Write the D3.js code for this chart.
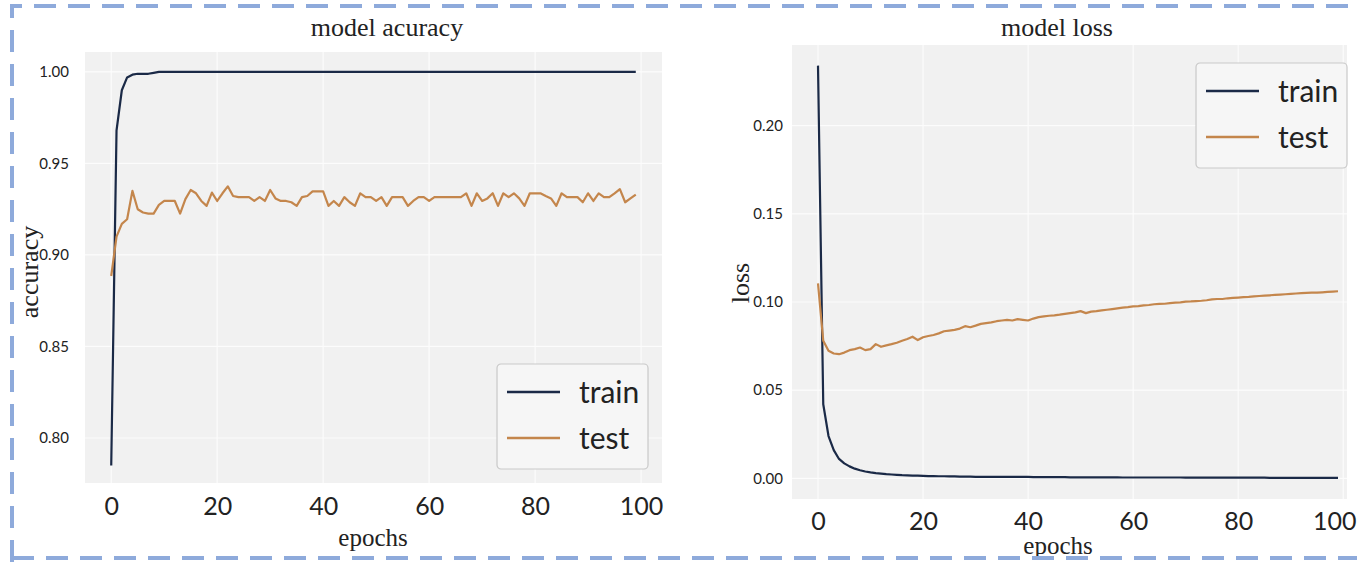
<!DOCTYPE html>
<html>
<head>
<meta charset="utf-8">
<script src="https://cdn.jsdelivr.net/npm/d3@7/dist/d3.min.js"></script>
<style>
  body { margin: 0; background: #fff; }
  svg { display: block; }
</style>
</head>
<body>
<svg id="chart" width="1357" height="562"></svg>
<script>
// values
const epochs = [
    0, 1, 2, 3, 4, 5, 6, 7, 8, 9, 10, 11, 12, 13, 14, 15, 16, 17, 18, 19,
    20, 21, 22, 23, 24, 25, 26, 27, 28, 29, 30, 31, 32, 33, 34, 35, 36, 37, 38, 39,
    40, 41, 42, 43, 44, 45, 46, 47, 48, 49, 50, 51, 52, 53, 54, 55, 56, 57, 58, 59,
    60, 61, 62, 63, 64, 65, 66, 67, 68, 69, 70, 71, 72, 73, 74, 75, 76, 77, 78, 79,
    80, 81, 82, 83, 84, 85, 86, 87, 88, 89, 90, 91, 92, 93, 94, 95, 96, 97, 98, 99
];

const accTrain = [
    0.785, 0.968, 0.990, 0.997, 0.9985, 0.999, 0.999, 0.999, 0.9995, 1.000,
    1.000, 1.000, 1.000, 1.000, 1.000, 1.000, 1.000, 1.000, 1.000, 1.000,
    1.000, 1.000, 1.000, 1.000, 1.000, 1.000, 1.000, 1.000, 1.000, 1.000,
    1.000, 1.000, 1.000, 1.000, 1.000, 1.000, 1.000, 1.000, 1.000, 1.000,
    1.000, 1.000, 1.000, 1.000, 1.000, 1.000, 1.000, 1.000, 1.000, 1.000,
    1.000, 1.000, 1.000, 1.000, 1.000, 1.000, 1.000, 1.000, 1.000, 1.000,
    1.000, 1.000, 1.000, 1.000, 1.000, 1.000, 1.000, 1.000, 1.000, 1.000,
    1.000, 1.000, 1.000, 1.000, 1.000, 1.000, 1.000, 1.000, 1.000, 1.000,
    1.000, 1.000, 1.000, 1.000, 1.000, 1.000, 1.000, 1.000, 1.000, 1.000,
    1.000, 1.000, 1.000, 1.000, 1.000, 1.000, 1.000, 1.000, 1.000, 1.000
];

const accTest = [
    0.8885, 0.9100, 0.9170, 0.9195, 0.9350, 0.9250, 0.9232, 0.9226, 0.9226, 0.9274,
    0.9295, 0.9295, 0.9295, 0.9226, 0.9305, 0.9355, 0.9337, 0.9295, 0.9268, 0.9341,
    0.9295, 0.9337, 0.9375, 0.9322, 0.9316, 0.9316, 0.9316, 0.9295, 0.9316, 0.9295,
    0.9355, 0.9309, 0.9295, 0.9295, 0.9288, 0.9268, 0.9316, 0.9322, 0.9347, 0.9347,
    0.9347, 0.9268, 0.9295, 0.9268, 0.9316, 0.9288, 0.9268, 0.9337, 0.9316, 0.9316,
    0.9295, 0.9316, 0.9268, 0.9316, 0.9316, 0.9316, 0.9268, 0.9295, 0.9316, 0.9316,
    0.9295, 0.9316, 0.9316, 0.9316, 0.9316, 0.9316, 0.9316, 0.9337, 0.9268, 0.9337,
    0.9295, 0.9309, 0.9337, 0.9268, 0.9337, 0.9316, 0.9337, 0.9309, 0.9268, 0.9337,
    0.9337, 0.9337, 0.9322, 0.9309, 0.9268, 0.9337, 0.9316, 0.9316, 0.9316, 0.9288,
    0.9337, 0.9295, 0.9337, 0.9316, 0.9316, 0.9337, 0.9360, 0.9288, 0.9309, 0.9330
];

const lossTrain = [
    0.2340, 0.0420, 0.0240, 0.0160, 0.0110, 0.0085, 0.0068, 0.0055, 0.0046, 0.0039,
    0.0034, 0.0030, 0.0027, 0.0024, 0.0022, 0.0020, 0.0018, 0.0017, 0.0016, 0.0015,
    0.0014, 0.0013, 0.0013, 0.0012, 0.0012, 0.0011, 0.0011, 0.0010, 0.0010, 0.0010,
    0.0009, 0.0009, 0.0009, 0.0009, 0.0008, 0.0008, 0.0008, 0.0008, 0.0008, 0.0008,
    0.0008, 0.0007, 0.0007, 0.0007, 0.0007, 0.0007, 0.0007, 0.0007, 0.0006, 0.0006,
    0.0006, 0.0006, 0.0006, 0.0006, 0.0006, 0.0006, 0.0006, 0.0006, 0.0005, 0.0005,
    0.0005, 0.0005, 0.0005, 0.0005, 0.0005, 0.0005, 0.0005, 0.0005, 0.0005, 0.0005,
    0.0004, 0.0004, 0.0004, 0.0004, 0.0004, 0.0004, 0.0004, 0.0004, 0.0004, 0.0004,
    0.0004, 0.0004, 0.0004, 0.0004, 0.0004, 0.0004, 0.0003, 0.0003, 0.0003, 0.0003,
    0.0003, 0.0003, 0.0003, 0.0003, 0.0003, 0.0003, 0.0003, 0.0003, 0.0003, 0.0003
];

const lossTest = [
    0.1105, 0.0780, 0.0723, 0.0708, 0.0704, 0.0713, 0.0727, 0.0733, 0.0742, 0.0727,
    0.0733, 0.0761, 0.0746, 0.0754, 0.0761, 0.0769, 0.0780, 0.0790, 0.0803, 0.0784,
    0.0800, 0.0807, 0.0813, 0.0822, 0.0834, 0.0838, 0.0842, 0.0849, 0.0863, 0.0857,
    0.0866, 0.0876, 0.0880, 0.0884, 0.0891, 0.0895, 0.0899, 0.0895, 0.0903, 0.0899,
    0.0895, 0.0906, 0.0914, 0.0918, 0.0922, 0.0924, 0.0928, 0.0933, 0.0937, 0.0941,
    0.0948, 0.0937, 0.0945, 0.0948, 0.0952, 0.0956, 0.0960, 0.0964, 0.0968, 0.0971,
    0.0975, 0.0977, 0.0981, 0.0983, 0.0987, 0.0989, 0.0990, 0.0994, 0.0996, 0.0998,
    0.1002, 0.1003, 0.1005, 0.1007, 0.1010, 0.1015, 0.1017, 0.1017, 0.1021, 0.1023,
    0.1025, 0.1027, 0.1029, 0.1032, 0.1034, 0.1036, 0.1038, 0.1040, 0.1042, 0.1044,
    0.1046, 0.1048, 0.1050, 0.1052, 0.1053, 0.1053, 0.1055, 0.1057, 0.1059, 0.1061
];

const epochTicks = [0, 20, 40, 60, 80, 100];
const accTicks = [0.80, 0.85, 0.90, 0.95, 1.00];
const lossTicks = [0.00, 0.05, 0.10, 0.15, 0.20];
const seriesNames = ["train", "test"];
const seriesColors = ["#1b2a47", "#c4864c"];

const W = 1357;
let svg = d3.select("#chart");
const serif = "'Liberation Serif', 'Times New Roman', serif";
const sans = "Lato, 'Open Sans', sans-serif";

function drawPanel(p) {
    let x = d3.scaleLinear().domain([-4.95, 103.95]).range([p.left, p.right]);
    let y = d3.scaleLinear().domain(p.yDomain).range([p.bottom, p.top]);
    let bgRight = Math.min(p.right, p.bgRight);
    let g = svg.append("g");

    g.append("rect")
        .attr("x", p.left)
        .attr("y", p.top)
        .attr("width", bgRight - p.left)
        .attr("height", p.bottom - p.top)
        .attr("fill", "#f1f1f1");

    // white grid
    g.selectAll(".gx").data(epochTicks).enter().append("line")
        .attr("x1", d => x(d)).attr("x2", d => x(d))
        .attr("y1", p.top).attr("y2", p.bottom)
        .attr("stroke", "#fcfcfc").attr("stroke-width", 1.2);
    g.selectAll(".gy").data(p.yTicks).enter().append("line")
        .attr("x1", p.left).attr("x2", bgRight)
        .attr("y1", d => y(d)).attr("y2", d => y(d))
        .attr("stroke", "#fcfcfc").attr("stroke-width", 1.2);

    let xAxis = g.append("g")
        .attr("transform", `translate(0,${p.bottom})`)
        .call(d3.axisBottom(x).tickValues(epochTicks).tickSize(0).tickPadding(p.xPad));
    xAxis.select(".domain").remove();
    xAxis.selectAll("text")
        .attr("font-family", sans)
        .attr("font-size", 25)
        .attr("fill", "#222");
    // the last label touches the right edge of the picture
    xAxis.selectAll(".tick").filter(d => x(d) + 22 > W)
        .select("text")
        .attr("text-anchor", "end")
        .attr("x", d => W - 1 - x(d));

    let yAxis = g.append("g")
        .attr("transform", `translate(${p.left},0)`)
        .call(d3.axisLeft(y).tickValues(p.yTicks).tickFormat(d3.format(".2f")).tickSize(0).tickPadding(p.yPad));
    yAxis.select(".domain").remove();
    yAxis.selectAll("text")
        .attr("font-family", sans)
        .attr("font-size", 15)
        .attr("fill", "#222");

    let line = d3.line().x((d, i) => x(epochs[i])).y(d => y(d));
    [p.train, p.test].forEach((values, k) => {
        g.append("path")
            .datum(values)
            .attr("d", line)
            .attr("fill", "none")
            .attr("stroke", seriesColors[k])
            .attr("stroke-width", 2.2)
            .attr("stroke-linejoin", "round");
    });

    g.append("text")
        .attr("x", p.titleX).attr("y", 36)
        .attr("text-anchor", "middle")
        .attr("font-family", serif)
        .attr("font-size", 26)
        .attr("fill", "#222")
        .text(p.title);

    g.append("text")
        .attr("x", p.xLabelX).attr("y", p.xLabelY)
        .attr("text-anchor", "middle")
        .attr("font-family", serif)
        .attr("font-size", 25)
        .attr("fill", "#222")
        .text("epochs");

    g.append("text")
        .attr("transform", `translate(${p.yLabelX},${p.yLabelY}) rotate(-90)`)
        .attr("text-anchor", "middle")
        .attr("font-family", serif)
        .attr("font-size", 26)
        .attr("fill", "#222")
        .text(p.yLabel);

    // legend
    let lg = g.append("g").attr("transform", `translate(${p.legend[0]},${p.legend[1]})`);
    lg.append("rect")
        .attr("width", 151).attr("height", 105).attr("rx", 4)
        .attr("fill", "#f6f6f6").attr("stroke", "#c9c9c9").attr("stroke-width", 1.2);
    seriesNames.forEach((name, k) => {
        let cy = 28 + k * 46;
        lg.append("line")
            .attr("x1", 10).attr("x2", 63).attr("y1", cy).attr("y2", cy)
            .attr("stroke", seriesColors[k]).attr("stroke-width", 2.5);
        lg.append("text")
            .attr("x", 82).attr("y", cy).attr("dy", "0.35em")
            .attr("font-family", sans)
            .attr("font-size", 30)
            .attr("fill", "#222")
            .text(name);
    });
}

drawPanel({
    left: 85, right: 662, bgRight: 662, top: 52, bottom: 483,
    yDomain: [0.7754, 1.0109], yTicks: accTicks,
    train: accTrain, test: accTest,
    title: "model acuracy", titleX: 387,
    yLabel: "accuracy", yLabelX: 38, yLabelY: 272,
    xLabelX: 373, xLabelY: 546, xPad: 14, yPad: 16,
    legend: [497, 364]
});

drawPanel({
    left: 792, right: 1364, bgRight: 1347, top: 45, bottom: 499,
    yDomain: [-0.0117, 0.2457], yTicks: lossTicks,
    train: lossTrain, test: lossTest,
    title: "model loss", titleX: 1057,
    yLabel: "loss", yLabelX: 749, yLabelY: 283,
    xLabelX: 1058, xLabelY: 554, xPad: 13, yPad: 9,
    legend: [1196, 63]
});

// dashed frame around the figure
svg.append("path")
    .attr("d", "M12,562 L12,6 L1357,6")
    .attr("fill", "none")
    .attr("stroke", "#8eaadb")
    .attr("stroke-width", 4)
    .attr("stroke-dasharray", "22,12");
svg.append("line")
    .attr("x1", 12).attr("x2", 1357).attr("y1", 558).attr("y2", 558)
    .attr("stroke", "#8eaadb")
    .attr("stroke-width", 4)
    .attr("stroke-dasharray", "22,12");
</script>
</body>
</html>
